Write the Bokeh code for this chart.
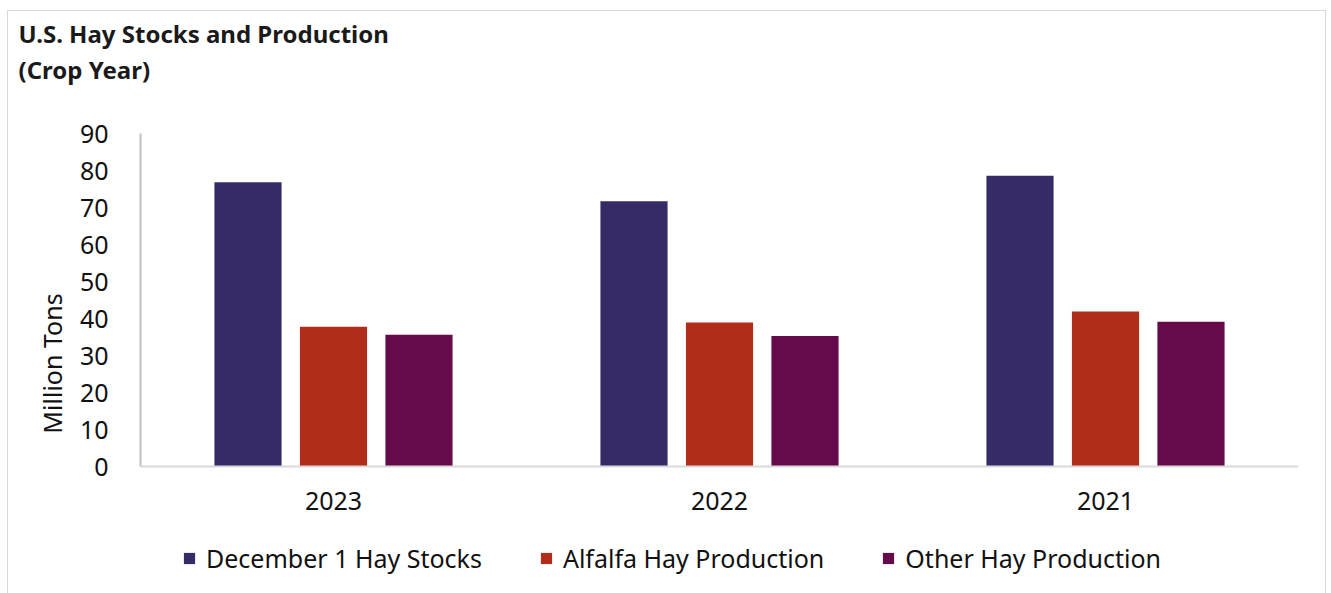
from bokeh.plotting import figure
from bokeh.models import FactorRange, Range1d, Legend, LegendItem, Title, ColumnDataSource
from bokeh.transform import dodge
from bokeh.embed import file_html
from bokeh.resources import INLINE

years = ["2023", "2022", "2021"]
stocks = [76.8, 71.7, 78.6]
alfalfa = [37.8, 38.9, 41.9]
other = [35.6, 35.3, 39.1]
series_names = ["December 1 Hay Stocks", "Alfalfa Hay Production", "Other Hay Production"]
colors = ["#362B67", "#B22C1B", "#650B4A"]
yticks = [0, 10, 20, 30, 40, 50, 60, 70, 80, 90]
title_lines = ["U.S. Hay Stocks and Production", "(Crop Year)"]
y_label = "Million Tons"

FONT = "Noto Sans"
FS = "25px"

AX_H = 333      # pixel height of the 0..90 value axis
FRAME_H = 460   # frame extends below the axis to hold the legend
y_start = 90 - 90 * FRAME_H / AX_H

src = ColumnDataSource(dict(years=years, stocks=stocks, alfalfa=alfalfa, other=other))

p = figure(x_range=FactorRange(*years), y_range=Range1d(y_start, 90),
           frame_width=1158, frame_height=FRAME_H, output_backend="svg", toolbar_location=None,
           min_border_left=132, min_border_right=27, min_border_top=122, min_border_bottom=0,
           title=title_lines[0])
p.styles = {"border": "1px solid #d9d9d9", "margin-left": "7px", "margin-top": "10px"}

p.title.text_font = FONT
p.title.text_font_size = "24px"
p.title.text_font_style = "bold"
p.title.text_color = "#1a1a1a"
p.title.align = "left"
p.title.offset = -122
p.title.standoff = 0

spacer = Title(text=" ", text_font_size="10px", standoff=34)
p.add_layout(spacer, "above")
sub_title = Title(text=title_lines[1], text_font=FONT, text_font_size="24px",
                  text_font_style="bold", text_color="#1a1a1a", align="left",
                  offset=-122, standoff=2)
p.add_layout(sub_title, "above")

renderers = []
for col, off, c in zip(["stocks", "alfalfa", "other"], [-0.2215, 0.0, 0.2215], colors):
    r = p.vbar(x=dodge("years", off, range=p.x_range), top=col, width=0.174,
               source=src, fill_color=c, line_color=None)
    renderers.append(r)

p.grid.visible = False
p.outline_line_color = None

p.yaxis.ticker = yticks
p.yaxis.bounds = (0, 90)
p.yaxis.major_tick_line_color = None
p.yaxis.minor_tick_line_color = None
p.yaxis.axis_line_color = "#bfbfbf"
p.yaxis.axis_line_width = 2
p.yaxis.major_label_text_font = FONT
p.yaxis.major_label_text_font_size = FS
p.yaxis.major_label_text_color = "#111111"
p.yaxis.major_label_standoff = 26

ylab = Title(text=y_label, text_font=FONT, text_font_size=FS, text_font_style="normal",
             text_color="#111111", align="center", offset=63, standoff=16)
p.add_layout(ylab, "left")

p.xaxis.fixed_location = 0
p.xaxis.major_tick_line_color = None
p.xaxis.minor_tick_line_color = None
p.xaxis.axis_line_color = "#d9d9d9"
p.xaxis.axis_line_width = 2
p.xaxis.major_label_text_font = FONT
p.xaxis.major_label_text_font_size = FS
p.xaxis.major_label_text_color = "#111111"
p.xaxis.major_label_standoff = 19

legend = Legend(items=[LegendItem(label=n, renderers=[r]) for n, r in zip(series_names, renderers)],
                orientation="horizontal", location=(42, 18),
                label_text_font=FONT, label_text_font_size=FS, label_text_color="#111111",
                glyph_width=14, glyph_height=14, label_standoff=10, spacing=57,
                border_line_color=None, background_fill_alpha=0, margin=0, padding=2)
p.add_layout(legend, "center")

open("out.html", "w").write(file_html(p, INLINE))
